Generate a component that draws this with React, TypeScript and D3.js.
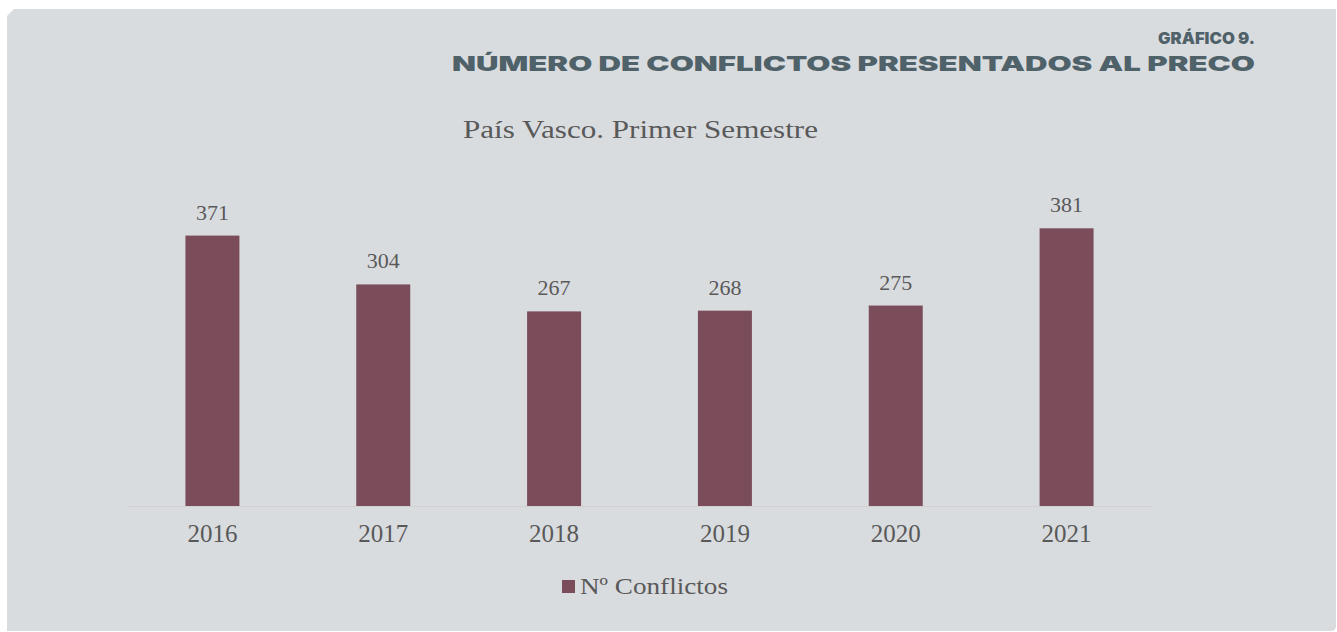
import { useEffect, useRef } from 'react'
import * as d3 from 'd3'

const years = ['2016', '2017', '2018', '2019', '2020', '2021']
const conflicts = [371, 304, 267, 268, 275, 381]
const seriesName = 'Nº Conflictos'
const chartTitle = 'País Vasco. Primer Semestre'
const headLine1 = 'GRÁFICO 9.'
const headLine2 = 'NÚMERO DE CONFLICTOS PRESENTADOS AL PRECO'

const W = 1337
const H = 632
const BAR = '#7b4d5a'
const TXT = '#595959'
const SERIF = '"Liberation Serif", "DejaVu Serif", serif'
const HEAD = 'Inter, "DejaVu Sans", sans-serif'

export default function App() {
  const ref = useRef<SVGSVGElement>(null)

  useEffect(() => {
    const svg = d3.select(ref.current)
    svg.selectAll('*').remove()

    // panel with cut top-left corner
    svg
      .append('path')
      .attr('d', `M14,9 L1336,9 L1336,626 Q1336,631 1331,631 L7,631 L7,16 Z`)
      .attr('fill', '#d9dcdf')

    svg
      .append('text')
      .attr('x', 1255)
      .attr('y', 44)
      .attr('text-anchor', 'end')
      .attr('font-family', HEAD)
      .attr('font-weight', 900)
      .attr('font-size', 16)
      .attr('fill', '#4f6169')
      .attr('textLength', 97)
      .attr('lengthAdjust', 'spacingAndGlyphs')
      .text(headLine1)

    svg
      .append('text')
      .attr('x', 452)
      .attr('y', 71)
      .attr('font-family', HEAD)
      .attr('font-weight', 900)
      .attr('font-size', 20)
      .attr('fill', '#4f6169')
      .attr('textLength', 803)
      .attr('lengthAdjust', 'spacingAndGlyphs')
      .text(headLine2)

    svg
      .append('text')
      .attr('x', 463)
      .attr('y', 138)
      .attr('font-family', SERIF)
      .attr('font-size', 26)
      .attr('fill', TXT)
      .attr('textLength', 355)
      .attr('lengthAdjust', 'spacingAndGlyphs')
      .text(chartTitle)

    const x = d3.scaleBand().domain(years).range([127, 1152]).paddingInner(0.684).paddingOuter(0.342)
    const y = d3.scaleLinear().domain([0, 450]).range([506, 178])

    svg
      .append('line')
      .attr('x1', 127)
      .attr('x2', 1152)
      .attr('y1', y(0) + 0.5)
      .attr('y2', y(0) + 0.5)
      .attr('stroke', '#d3cfd0')
      .attr('stroke-width', 1)

    svg
      .append('g')
      .selectAll('rect')
      .data(conflicts)
      .join('rect')
      .attr('x', (_, i) => x(years[i])!)
      .attr('width', x.bandwidth())
      .attr('y', (d) => y(d))
      .attr('height', (d) => y(0) - y(d))
      .attr('fill', BAR)

    svg
      .append('g')
      .selectAll('text')
      .data(conflicts)
      .join('text')
      .attr('x', (_, i) => x(years[i])! + x.bandwidth() / 2)
      .attr('y', (d) => y(d) - 16)
      .attr('text-anchor', 'middle')
      .attr('font-family', SERIF)
      .attr('font-size', 22)
      .attr('fill', TXT)
      .text((d) => d)

    svg
      .append('g')
      .selectAll('text')
      .data(years)
      .join('text')
      .attr('x', (d) => x(d)! + x.bandwidth() / 2)
      .attr('y', 542)
      .attr('text-anchor', 'middle')
      .attr('font-family', SERIF)
      .attr('font-size', 25)
      .attr('fill', TXT)
      .text((d) => d)

    svg
      .append('rect')
      .attr('x', 562)
      .attr('y', 580)
      .attr('width', 13)
      .attr('height', 13)
      .attr('fill', BAR)

    svg
      .append('text')
      .attr('x', 580)
      .attr('y', 594)
      .attr('font-family', SERIF)
      .attr('font-size', 23)
      .attr('fill', TXT)
      .attr('textLength', 148)
      .attr('lengthAdjust', 'spacingAndGlyphs')
      .text(seriesName)
  }, [])

  return (
    <svg
      ref={ref}
      width={W}
      height={H}
      style={{ position: 'absolute', left: 0, top: 0, background: '#fff' }}
    />
  )
}
